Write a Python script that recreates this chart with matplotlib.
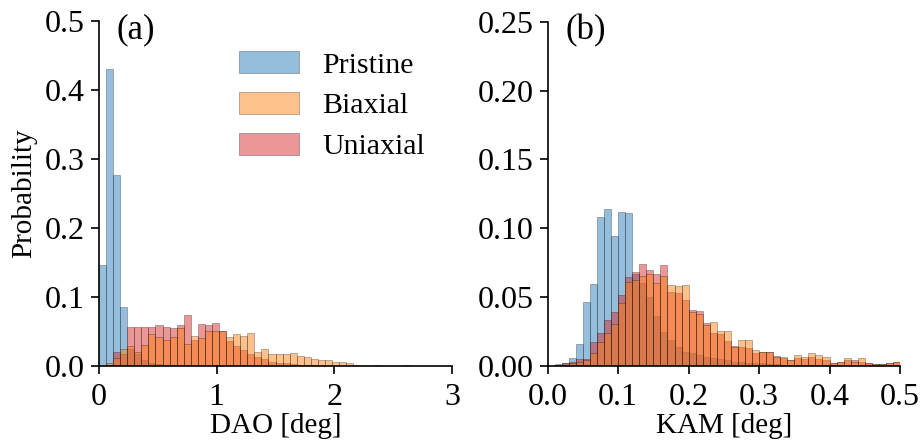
import numpy as np
import matplotlib
matplotlib.use("Agg")
import matplotlib.pyplot as plt

# ---------------- data ----------------
dao_edges_range = (0.0, 3.0)
kam_edges_range = (0.0, 0.5)
n_bins = 50

dao_pristine = [0.147, 0.430, 0.277, 0.086, 0.025, 0.018, 0.008, 0.005, 0.003, 0.002,
                0.001, 0, 0, 0, 0, 0, 0, 0, 0, 0,
                0, 0, 0, 0, 0, 0, 0, 0, 0, 0,
                0, 0, 0, 0, 0, 0, 0, 0, 0, 0,
                0, 0, 0, 0, 0, 0, 0, 0, 0, 0]
dao_biaxial = [0.0, 0.005, 0.011, 0.0246, 0.029, 0.020, 0.031, 0.047, 0.0425, 0.038,
               0.0425, 0.0555, 0.032, 0.044, 0.040, 0.051, 0.051, 0.0507, 0.0425, 0.047,
               0.043, 0.048, 0.020, 0.024, 0.018, 0.018, 0.018, 0.019, 0.0145, 0.0135,
               0.0097, 0.0087, 0.0087, 0.0063, 0.0063, 0.004, 0.001, 0, 0, 0.002,
               0, 0, 0, 0.002, 0, 0, 0, 0, 0, 0]
dao_uniaxial = [0.0, 0.002, 0.021, 0.018, 0.057, 0.057, 0.057, 0.057, 0.059, 0.057,
                0.0555, 0.0594, 0.0735, 0.038, 0.061, 0.060, 0.063, 0.0507, 0.036, 0.029,
                0.023, 0.0174, 0.0126, 0.0097, 0.006, 0.004, 0.004, 0.003, 0.002, 0.002,
                0.001, 0.001, 0, 0, 0, 0, 0, 0, 0, 0,
                0, 0, 0, 0, 0, 0, 0, 0, 0, 0]

kam_pristine = [0.0, 0.0015, 0.0025, 0.0055, 0.016, 0.0465, 0.0595, 0.1085, 0.114, 0.0945,
                0.112, 0.111, 0.067, 0.060, 0.050, 0.036, 0.025, 0.019, 0.014, 0.0104,
                0.0094, 0.008, 0.0068, 0.0056, 0.005, 0.004, 0.003, 0.003, 0.0025, 0.002,
                0.002, 0.0015, 0.0015, 0.001, 0.001, 0.001, 0.0008, 0.0008, 0.0005, 0.0005,
                0.0005, 0.0003, 0.0003, 0.0003, 0.0002, 0.0002, 0.0002, 0.0001, 0.0001, 0.0001]
kam_biaxial = [0.0, 0.0, 0.001, 0.002, 0.003, 0.004, 0.0097, 0.0177, 0.0237, 0.0305,
               0.046, 0.061, 0.0625, 0.065, 0.067, 0.0605, 0.065, 0.059, 0.058, 0.059,
               0.039, 0.038, 0.030, 0.032, 0.0257, 0.0257, 0.014, 0.019, 0.019, 0.0116,
               0.0104, 0.0104, 0.0068, 0.0063, 0.0044, 0.008, 0.0063, 0.0097, 0.008, 0.0068,
               0.002, 0.003, 0.0056, 0.003, 0.0056, 0.002, 0.0015, 0.0015, 0.002, 0.003]
kam_uniaxial = [0.0, 0.0005, 0.002, 0.003, 0.005, 0.005, 0.0177, 0.0237, 0.0334, 0.0394,
                0.0515, 0.0644, 0.068, 0.074, 0.070, 0.067, 0.073, 0.054, 0.053, 0.048,
                0.041, 0.040, 0.0315, 0.024, 0.023, 0.018, 0.0148, 0.014, 0.013, 0.0097,
                0.0104, 0.0104, 0.007, 0.006, 0.0044, 0.0056, 0.005, 0.0068, 0.005, 0.004,
                0.002, 0.003, 0.0044, 0.0044, 0.003, 0.002, 0.0015, 0.0015, 0.002, 0.003]

labels = ["Pristine", "Biaxial", "Uniaxial"]
colors = ["tab:blue", "tab:orange", "tab:red"]

dao_yticks = [0.0, 0.1, 0.2, 0.3, 0.4, 0.5]
dao_xticks = [0, 1, 2, 3]
kam_yticks = [0.00, 0.05, 0.10, 0.15, 0.20, 0.25]
kam_xticks = [0.0, 0.1, 0.2, 0.3, 0.4, 0.5]

# ---------------- style ----------------
plt.rcParams['font.family'] = ['Liberation Serif', 'DejaVu Serif']
plt.rcParams['font.size'] = 21

fig = plt.figure(figsize=(9.21, 4.47), dpi=100)
axL = fig.add_axes([0.1075, 0.1812, 0.3833, 0.7718])
axR = fig.add_axes([0.5947, 0.1812, 0.3825, 0.7703])


def draw(ax, rng, series):
    edges = np.linspace(rng[0], rng[1], n_bins + 1)
    w = edges[1] - edges[0]
    handles = {}
    # draw order: pristine, uniaxial, biaxial
    for idx in [0, 2, 1]:
        h = ax.bar(edges[:-1], series[idx], width=w, align='edge',
                   color=colors[idx], alpha=0.48, edgecolor='k', linewidth=0.4,
                   label=labels[idx])
        handles[idx] = h
    return [handles[0], handles[1], handles[2]]


hL = draw(axL, dao_edges_range, [dao_pristine, dao_biaxial, dao_uniaxial])
draw(axR, kam_edges_range, [kam_pristine, kam_biaxial, kam_uniaxial])

for ax in (axL, axR):
    ax.spines['top'].set_visible(False)
    ax.spines['right'].set_visible(False)
    ax.spines['left'].set_linewidth(1.2)
    ax.spines['bottom'].set_linewidth(1.2)
    ax.tick_params(direction='out', length=6, width=1.2, labelsize=23, pad=4)
    ax.tick_params(axis='x', pad=6)

axL.set_xlim(0, 3)
axL.set_ylim(0, 0.5)
axL.set_xticks(dao_xticks)
axL.set_yticks(dao_yticks)
axL.set_yticklabels([f"{v:.1f}" for v in dao_yticks])
axL.set_xlabel("DAO [deg]", fontsize=21, labelpad=1)
axL.set_ylabel("Probability", fontsize=21, labelpad=6)
axL.text(0.05, 0.975, "(a)", transform=axL.transAxes, ha='left', va='center', fontsize=25)

axR.set_xlim(0, 0.5)
axR.set_ylim(0, 0.25)
axR.set_xticks(kam_xticks)
axR.set_xticklabels([f"{v:.1f}" for v in kam_xticks])
axR.set_yticks(kam_yticks)
axR.set_yticklabels([f"{v:.2f}" for v in kam_yticks])
axR.set_xlabel("KAM [deg]", fontsize=21, labelpad=1)
axR.text(0.05, 0.975, "(b)", transform=axR.transAxes, ha='left', va='center', fontsize=25)

axL.legend(hL, labels, loc='upper right', frameon=False, fontsize=21.5,
           handlelength=2.0, handleheight=0.75, handletextpad=0.8,
           labelspacing=0.45, bbox_to_anchor=(1.0, 0.99))

fig.savefig("out.png", dpi=100)
